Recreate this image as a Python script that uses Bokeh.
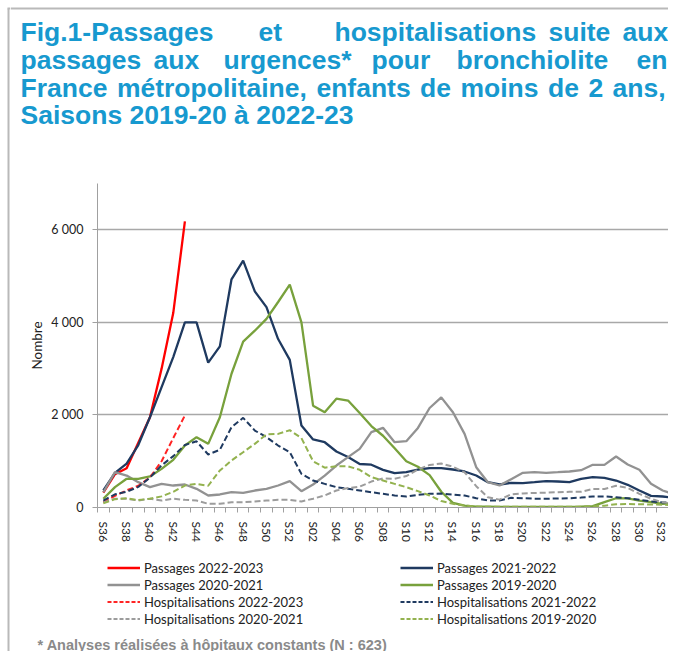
from bokeh.plotting import figure
from bokeh.layouts import row, column
from bokeh.models import Range1d, FixedTicker, Label, Legend, LegendItem
from bokeh.embed import file_html
from bokeh.resources import INLINE

# ---------------- data ----------------
weeks = ["S36", "S37", "S38", "S39", "S40", "S41", "S42", "S43", "S44", "S45", "S46",
         "S47", "S48", "S49", "S50", "S51", "S52", "S01", "S02", "S03", "S04", "S05",
         "S06", "S07", "S08", "S09", "S10", "S11", "S12", "S13", "S14", "S15", "S16",
         "S17", "S18", "S19", "S20", "S21", "S22", "S23", "S24", "S25", "S26", "S27",
         "S28", "S29", "S30", "S31", "S32", "S33"]

passages_2022_2023 = [320, 720, 850, 1400, 1950, 3000, 4200, 6180]
passages_2021_2022 = [370, 750, 950, 1350, 1950, 2600, 3250, 4000, 4000, 3130, 3480,
                      4930, 5335, 4670, 4330, 3640, 3190, 1770, 1470, 1410, 1210, 1090,
                      940, 925, 814, 742, 763, 821, 850, 850, 821, 778, 691, 547, 497,
                      533, 526, 547, 569, 562, 547, 619, 655, 641, 583, 490, 367, 252,
                      238, 209]
passages_2020_2021 = [330, 763, 690, 547, 440, 510, 475, 497, 403, 259, 281, 331, 317,
                      367, 403, 475, 569, 353, 497, 690, 907, 1087, 1267, 1627, 1721,
                      1411, 1433, 1720, 2150, 2380, 2059, 1591, 870, 547, 475, 612, 749,
                      763, 749, 763, 778, 806, 922, 922, 1102, 929, 814, 511, 367, 281]
passages_2019_2020 = [190, 440, 620, 620, 670, 835, 1030, 1340, 1520, 1375, 1950, 2890,
                      3585, 3820, 4075, 4440, 4817, 4000, 2200, 2060, 2350, 2310, 2040,
                      1760, 1550, 1280, 1000, 880, 700, 340, 100, 40, 20, 20, 15, 15, 15,
                      15, 15, 15, 15, 20, 30, 115, 200, 195, 150, 115, 80, 90]
hosp_2022_2023 = [115, 250, 370, 470, 650, 1000, 1500, 1990]
hosp_2021_2022 = [151, 285, 340, 445, 645, 910, 1110, 1350, 1430, 1145, 1246, 1735,
                  1937, 1663, 1519, 1339, 1195, 727, 583, 511, 439, 403, 367, 331, 295,
                  259, 238, 274, 295, 300, 281, 259, 201, 151, 151, 209, 201, 190, 190,
                  195, 201, 215, 238, 238, 223, 201, 165, 130, 110, 95]
hosp_2020_2021 = [110, 190, 190, 150, 190, 150, 190, 165, 150, 80, 80, 115, 115, 130,
                  150, 165, 165, 130, 190, 260, 367, 420, 450, 560, 630, 620, 680, 820,
                  920, 950, 880, 760, 460, 220, 170, 285, 305, 315, 320, 330, 338, 340,
                  400, 400, 470, 425, 295, 187, 115, 80]
hosp_2019_2020 = [90, 180, 200, 160, 190, 240, 340, 475, 510, 470, 800, 1015, 1195,
                  1375, 1580, 1590, 1670, 1500, 1000, 860, 890, 890, 814, 655, 583, 511,
                  439, 353, 259, 140, 80, 40, 20, 15, 15, 15, 15, 15, 15, 15, 15, 20, 25,
                  40, 70, 75, 70, 65, 60, 50]

y_ticks = [0, 2000, 4000, 6000]
y_tick_labels = ["0", "2 000", "4 000", "6 000"]

series = [
    ("Passages 2022-2023", passages_2022_2023, "#ff0000", "solid"),
    ("Passages 2021-2022", passages_2021_2022, "#1f3a60", "solid"),
    ("Passages 2020-2021", passages_2020_2021, "#929292", "solid"),
    ("Passages 2019-2020", passages_2019_2020, "#78a13c", "solid"),
    ("Hospitalisations 2022-2023", hosp_2022_2023, "#ff2424", "dashed"),
    ("Hospitalisations 2021-2022", hosp_2021_2022, "#1f3a60", "dashed"),
    ("Hospitalisations 2020-2021", hosp_2020_2021, "#9c9c9c", "dashed"),
    ("Hospitalisations 2019-2020", hosp_2019_2020, "#93b24f", "dashed"),
]

# ---------------- layout (picture px) ----------------
TOTAL_W, TOTAL_H = 668, 651
STRIP_W = 10
COL_X0 = STRIP_W
COL_W = TOTAL_W - COL_X0
TITLE_H = 170
FRAME_L, FRAME_T, FRAME_B = 97, 183, 507
MAIN_Y1 = 545
BOTTOM_H = TOTAL_H - MAIN_Y1
BORDER_COLOR = "#b9b9b9"


def unalign(f):
    try:
        f.frame_align = False
    except Exception:
        pass


def blank(w, h):
    f = figure(width=w, height=h, output_backend="svg", toolbar_location=None, tools="",
               x_range=Range1d(0, w), y_range=Range1d(h, 0),
               x_axis_location=None, y_axis_location=None,
               min_border=0, min_border_left=0, min_border_right=0,
               min_border_top=0, min_border_bottom=0)
    f.grid.visible = False
    f.outline_line_color = None
    unalign(f)
    return f


# left border strip
f_border = blank(STRIP_W, TOTAL_H)
f_border.segment(x0=[8], y0=[8], x1=[8], y1=[TOTAL_H], line_color=BORDER_COLOR,
                 line_width=2)
f_border.segment(x0=[7], y0=[8], x1=[STRIP_W], y1=[8], line_color=BORDER_COLOR,
                 line_width=2)

# ---------------- title figure ----------------
f_title = blank(COL_W, TITLE_H)
f_title.segment(x0=[0], y0=[8], x1=[COL_W], y1=[8], line_color=BORDER_COLOR, line_width=2)

TITLE_COLOR = "#1799cf"
title_lines = [
    (31, [(20, "Fig.1-Passages"), (258, "et"), (334, "hospitalisations"),
          (548, "suite"), (622, "aux")]),
    (59, [(20, "passages"), (153, "aux"), (223, "urgences*"), (371, "pour"),
          (456, "bronchiolite"), (636, "en")]),
    (87, [(20, "France"), (116.4, "métropolitaine,"), (315.9, "enfants"), (419.6, "de"),
          (460, "moins"), (547.5, "de"), (587.9, "2"), (612.1, "ans,")]),
    (114, [(20, "Saisons 2019-20 à 2022-23")]),
]
for base, words in title_lines:
    for wx, w in words:
        f_title.add_layout(Label(x=wx - COL_X0, y=base, text=w,
                                 text_font="Liberation Sans", text_font_style="bold",
                                 text_font_size="26.5px", text_color=TITLE_COLOR,
                                 text_baseline="alphabetic", text_align="left"))

# ---------------- main chart ----------------
p = figure(width=COL_W, height=MAIN_Y1 - TITLE_H, output_backend="svg",
           toolbar_location=None, tools="",
           x_range=Range1d(-0.5, 48.5), y_range=Range1d(0, 7000),
           min_border_left=FRAME_L - COL_X0, min_border_right=0,
           min_border_top=FRAME_T - TITLE_H, min_border_bottom=MAIN_Y1 - FRAME_B)
unalign(p)
p.outline_line_color = None
p.xgrid.visible = False
p.ygrid.grid_line_color = "#a8a8a8"
p.ygrid.grid_line_width = 1.3

p.yaxis.ticker = FixedTicker(ticks=y_ticks)
p.yaxis.major_label_overrides = {t: l for t, l in zip(y_ticks, y_tick_labels)}
p.yaxis.axis_line_color = "#a0a0a0"
p.yaxis.major_tick_line_color = "#a0a0a0"
p.yaxis.major_tick_out = 5
p.yaxis.major_tick_in = 0
p.yaxis.minor_tick_line_color = None
p.yaxis.major_label_text_font = "Lato"
p.yaxis.major_label_text_font_size = "12.5px"
p.yaxis.major_label_text_color = "#222222"
p.yaxis.major_label_standoff = 9
p.yaxis.axis_label = "Nombre"
p.yaxis.axis_label_text_font = "Lato"
p.yaxis.axis_label_text_font_size = "13.5px"
p.yaxis.axis_label_text_font_style = "normal"
p.yaxis.axis_label_text_color = "#222222"
p.yaxis.axis_label_standoff = 3

label_pos = list(range(0, len(weeks) - 1, 2))
p.xaxis.ticker = FixedTicker(ticks=label_pos,
                             minor_ticks=[i - 0.5 for i in range(len(weeks))])
p.xaxis.major_label_overrides = {i: weeks[i] for i in label_pos}
p.xaxis.major_label_orientation = "vertical"
p.xaxis.axis_line_color = "#a0a0a0"
p.xaxis.major_tick_line_color = None
p.xaxis.minor_tick_line_color = "#a0a0a0"
p.xaxis.minor_tick_out = 5
p.xaxis.minor_tick_in = 0
p.xaxis.major_label_text_font = "Lato"
p.xaxis.major_label_text_font_size = "12px"
p.xaxis.major_label_text_color = "#222222"
p.xaxis.major_label_standoff = 8

for name, vals, color, dash in series:
    xs = list(range(len(vals)))
    p.line(xs, vals, line_color=color, line_width=2.3 if dash == "solid" else 2.0,
           line_dash="solid" if dash == "solid" else "6 3")

# ---------------- legend + footnote figure ----------------
f_bot = blank(COL_W, BOTTOM_H)
legend_renderers = {}
for name, vals, color, dash in series:
    # swatch-only renderers, placed outside the visible range
    legend_renderers[name] = f_bot.line([-20, -10], [-20, -20], line_color=color,
                                        line_width=2.3 if dash == "solid" else 2.0,
                                        line_dash="solid" if dash == "solid" else "4 2")

ROW_H = 17


def legend_at(names, pic_x, pic_y_top):
    items = [LegendItem(label=n, renderers=[legend_renderers[n]]) for n in names]
    bottom_canvas = pic_y_top - MAIN_Y1 + ROW_H * len(items)
    leg = Legend(items=items, location=(pic_x - COL_X0, BOTTOM_H - bottom_canvas),
                 orientation="vertical", glyph_width=33, glyph_height=ROW_H,
                 label_height=ROW_H, label_standoff=4, spacing=0, padding=0, margin=0,
                 border_line_alpha=0, background_fill_alpha=0,
                 label_text_font="Lato", label_text_font_size="13px",
                 label_text_color="#222222")
    f_bot.add_layout(leg, "center")


legend_at(["Passages 2022-2023", "Passages 2020-2021",
           "Hospitalisations 2022-2023", "Hospitalisations 2020-2021"], 107, 559)
legend_at(["Passages 2021-2022", "Passages 2019-2020",
           "Hospitalisations 2021-2022", "Hospitalisations 2019-2020"], 400, 559)

f_bot.add_layout(Label(x=37 - COL_X0, y=644 - MAIN_Y1,
                       text="* Analyses réalisées à hôpitaux constants (N : 623)",
                       text_font="Liberation Sans", text_font_style="bold",
                       text_font_size="14.5px", text_color="#8a8a8a",
                       text_baseline="alphabetic", text_align="left"))

layout = row(f_border, column(f_title, p, f_bot, spacing=0), spacing=0)

open("out.html", "w").write(file_html(layout, INLINE))
